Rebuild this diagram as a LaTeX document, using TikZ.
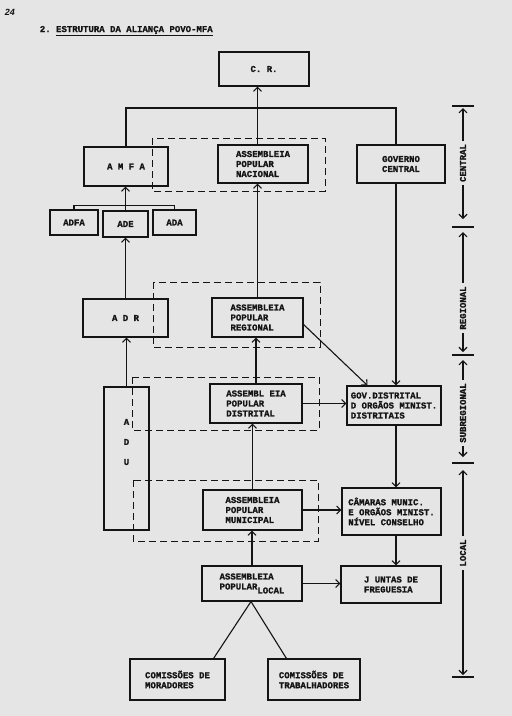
\documentclass[tikz,border=0pt]{standalone}
\usepackage{fontspec}
\setmonofont[BoldFeatures={FakeBold=1.2}]{Liberation Mono}
\newfontfamily\pagefont{Liberation Sans}
\usetikzlibrary{arrows.meta}
\definecolor{paper}{gray}{0.9}
\definecolor{ink}{gray}{0.08}
\tikzset{
  box/.style={draw, rectangle, inner sep=1pt, align=left,
    font=\ttfamily\bfseries\fontsize{9}{10}\selectfont},
  dashbox/.style={line width=0.9pt, dash pattern=on 7pt off 4pt},
  scalelabel/.style={rotate=90, inner sep=3pt,
    font=\ttfamily\bfseries\fontsize{9}{10}\selectfont},
}
\begin{document}
\begin{tikzpicture}[x=1pt, y=-1pt, color=ink, line width=1.1pt,
  >={Straight Barb[length=4pt,width=8pt]}]
\fill[paper] (0,0) rectangle (512,716);
\useasboundingbox (0,0) rectangle (512,716);
\node[font=\pagefont\bfseries\itshape\fontsize{9}{10}\selectfont] (pagenum) at (10,12) {24};
\node[anchor=west, font=\ttfamily\bfseries\fontsize{9}{10}\selectfont] (title) at (36,31)
  {2. \underline{ESTRUTURA DA ALIANÇA POVO-MFA}};
% dashed groups
\draw[dashbox] (152,138) rectangle (325,191);
\draw[dashbox] (153,282) rectangle (320,347);
\draw[dashbox] (132,377) rectangle (319,430);
\draw[dashbox] (133,480) rectangle (318,541);
% central
\node[box, minimum width=90, minimum height=34] (cr) at (264,69) {C. R.};
\node[box, minimum width=84, minimum height=39] (amfa) at (126,166.5) {A M F A};
\node[box, minimum width=90, minimum height=38] (apn) at (263,164) {ASSEMBLEIA\\POPULAR\\NACIONAL};
\node[box, minimum width=88, minimum height=38] (gc) at (401,164) {GOVERNO\\CENTRAL};
\node[box, minimum width=48, minimum height=25] (adfa) at (74,222.5) {ADFA};
\node[box, minimum width=45, minimum height=26] (ade) at (125.5,224) {ADE};
\node[box, minimum width=43, minimum height=25] (ada) at (174.5,222.5) {ADA};
% regional
\node[box, minimum width=85, minimum height=38] (adr) at (125.5,318) {A D R};
\node[box, minimum width=91, minimum height=39] (apr) at (257.5,317.5) {ASSEMBLEIA\\POPULAR\\REGIONAL};
% distrital
\node[box, minimum width=45, minimum height=143] (adu) at (126.5,458.5) {};
\node[font=\ttfamily\bfseries\fontsize{9}{20}\selectfont, align=center] (adutext) at (126.5,442) {A\\D\\U};
\node[box, minimum width=92, minimum height=39] (apd) at (256,403.5) {ASSEMBL EIA\\POPULAR\\DISTRITAL};
\node[box, minimum width=94, minimum height=39] (gd) at (394,405.5) {GOV.DISTRITAL\\D ORGÃOS MINIST.\\DISTRITAIS};
% municipal
\node[box, minimum width=99, minimum height=40] (apm) at (252.5,510) {ASSEMBLEIA\\POPULAR\\MUNICIPAL};
\node[box, minimum width=99, minimum height=47] (cm) at (391.5,511.5) {CÂMARAS MUNIC.\\E ORGÃOS MINIST.\\NÍVEL CONSELHO};
% local
\node[box, minimum width=100, minimum height=35] (apl) at (252,583.5) {ASSEMBLEIA\\POPULAR\raisebox{-4pt}{LOCAL}};
\node[box, minimum width=100, minimum height=37] (jf) at (391,584.5) {J UNTAS DE\\FREGUESIA};
\node[box, minimum width=95, minimum height=41] (cmo) at (177.5,679.5) {COMISSÕES DE\\MORADORES};
\node[box, minimum width=92, minimum height=41] (ctr) at (314,679.5) {COMISSÕES DE\\TRABALHADORES};
% connectors
\coordinate (bus) at (0,108);
\coordinate (rcol) at (396,0);
\draw (amfa.north) |- (bus -| rcol) -- (gc.north -| rcol);
\draw[->] (apn.north -| apr.north) -- (apr.north |- cr.south);
\draw[->] (apr.north) -- (apr.north |- apn.south);
\draw[->] (apd.north) -- (apd.north |- apr.south);
\draw[->] (apm.north) -- (apm.north |- apd.south);
\draw[->] (apl.north) -- (apl.north |- apm.south);
\draw (adfa.north) -- ++(0,-4) -| (ada.north);
\draw[->] (ade.north) -- (ade.north |- amfa.south);
\draw[->] (adr.north) -- (adr.north |- ade.south);
\draw[->] (adu.north) -- (adu.north |- adr.south);
\draw[->] (gc.south -| rcol) -- (gd.north -| rcol);
\draw[->] (gd.south -| rcol) -- (cm.north -| rcol);
\draw[->] (cm.south -| rcol) -- (jf.north -| rcol);
\draw[->] ([yshift=-7pt]apr.east) -- ([xshift=21pt]gd.north west);
\draw[->] (apd.east) -- (apd.east -| gd.west);
\draw[->] (apm.east) -- (apm.east -| cm.west);
\draw[->] (apl.east) -- (apl.east -| jf.west);
\draw ([xshift=-1pt]apl.south) -- ([xshift=-12pt]cmo.north east);
\draw ([xshift=-1pt]apl.south) -- ([xshift=19pt]ctr.north west);
% levels
\coordinate (t1) at (463,106);
\coordinate (t2) at (463,227);
\coordinate (t3) at (463,355);
\coordinate (t4) at (463,463);
\coordinate (t5) at (463,677);
\foreach \t in {t1,t2,t3,t4,t5}
  \draw (\t) ++(-11,0) -- ++(22,0);
\node[scalelabel] (central) at (463,163) {CENTRAL};
\node[scalelabel] (regional) at (463,308) {REGIONAL};
\node[scalelabel] (subregional) at (463,413) {SUBREGIONAL};
\node[scalelabel] (local) at (463,553) {LOCAL};
\draw[->, shorten >=2pt] (central) -- (t1);
\draw[->, shorten >=8pt] (central) -- (t2);
\draw[->, shorten >=5pt] (regional) -- (t2);
\draw[->, shorten >=3pt] (regional) -- (t3);
\draw[->, shorten >=5pt] (subregional) -- (t3);
\draw[->, shorten >=6pt] (subregional) -- (t4);
\draw[->, shorten >=7pt] (local) -- (t4);
\draw[->, shorten >=2pt] (local) -- (t5);
\end{tikzpicture}
\end{document}
